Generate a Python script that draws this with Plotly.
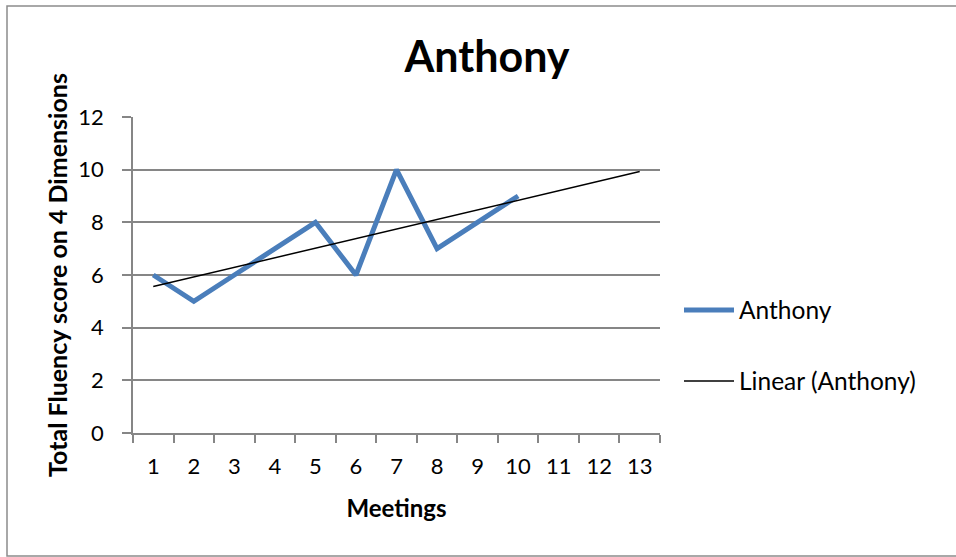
import numpy as np
import plotly.graph_objects as go

categories = [str(i) for i in range(1, 14)]
meetings = [1, 2, 3, 4, 5, 6, 7, 8, 9, 10]
scores = [6, 5, 6, 7, 8, 6, 10, 7, 8, 9]
y_ticks = [0, 2, 4, 6, 8, 10, 12]

# Linear trendline (least-squares fit of the series), forecast to category 13
slope, intercept = np.polyfit(meetings, scores, 1)
trend_x = [1, 13]
trend_y = [slope * x + intercept for x in trend_x]

FONT = "Lato"
GRID = "#868686"

fig = go.Figure()
fig.add_trace(go.Scatter(
    x=[str(m) for m in meetings], y=scores, mode="lines", name="Anthony",
    line=dict(color="#4A7EBB", width=5), legend="legend",
))
fig.add_trace(go.Scatter(
    x=[str(v) for v in trend_x], y=trend_y, mode="lines", name="Linear (Anthony)",
    line=dict(color="#000000", width=1.5), legend="legend2",
))

L, R, T, B = 133, 296, 117, 124
W, H = 956, 557
pw, ph = W - L - R, H - T - B

def px(xpix):
    return (xpix - L) / pw

def py(ypix):
    return (H - B - ypix) / ph

fig.add_shape(type="rect", xref="paper", yref="paper",
              x0=px(7), x1=px(1000), y0=py(556), y1=py(6),
              line=dict(color="#8C8C8C", width=1.5), fillcolor="rgba(0,0,0,0)",
              layer="below")

leg_common = dict(xanchor="left", yanchor="middle", font=dict(family=FONT, size=24.5),
                  itemwidth=50, bgcolor="rgba(0,0,0,0)")

fig.update_layout(
    width=W, height=H,
    margin=dict(l=L, r=R, t=T, b=B),
    paper_bgcolor="white", plot_bgcolor="white",
    font=dict(family=FONT, size=22, color="#000000"),
    title=dict(text="<b>Anthony</b>", xref="container", x=487 / W, xanchor="center",
               y=1 - 57 / H, yanchor="middle",
               font=dict(family=FONT, size=43, color="#000000")),
    showlegend=True,
    legend=dict(x=px(679), y=py(310), **leg_common),
    legend2=dict(x=px(679), y=py(381), **leg_common),
    xaxis=dict(
        type="category", categoryorder="array", categoryarray=categories,
        range=[-0.5, 12.5], tickson="boundaries",
        ticks="outside", ticklen=8, tickcolor=GRID, tickwidth=1.5,
        showline=True, linecolor=GRID, linewidth=1.5,
        showgrid=False, zeroline=False,
        tickfont=dict(family=FONT, size=22), ticklabelstandoff=13,
        title=dict(text="<b>Meetings</b>", font=dict(family=FONT, size=24), standoff=22),
    ),
    yaxis=dict(
        range=[0, 12], tickvals=y_ticks,
        ticks="outside", ticklen=9, tickcolor=GRID, tickwidth=1.5,
        showline=True, linecolor=GRID, linewidth=1.5,
        showgrid=True, gridcolor=GRID, gridwidth=1.5,
        zeroline=False,
        tickfont=dict(family=FONT, size=22), ticklabelstandoff=14,
        title=dict(text="<b>Total Fluency score on 4 Dimensions</b>",
                   font=dict(family=FONT, size=25), standoff=4),
    ),
)

fig.write_html("out.html", config={"displayModeBar": False},
               post_script="document.body.style.margin='0';")
